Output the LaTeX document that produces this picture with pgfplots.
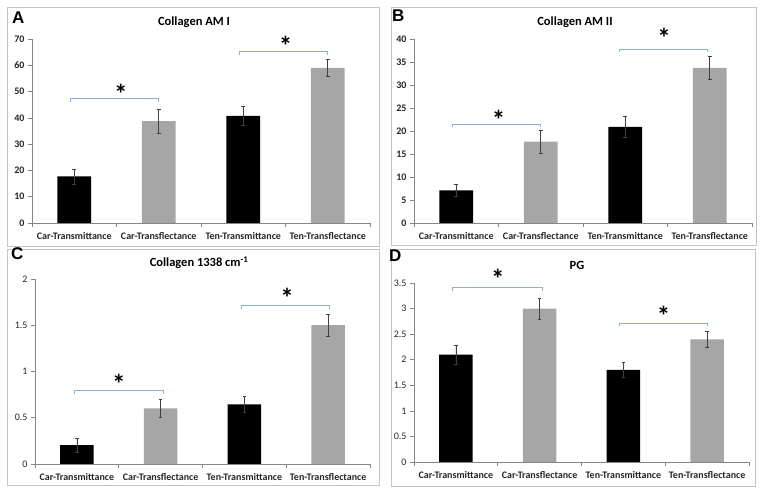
\documentclass[border=0pt]{standalone}
\usepackage{pgfplots}
\pgfplotsset{compat=1.18}
\usepackage{fontspec}
\setmainfont{Carlito}
\newfontfamily\arialf{Liberation Sans}
\definecolor{bargrey}{HTML}{A6A6A6}
\definecolor{axgrey}{HTML}{868686}
\definecolor{brk}{HTML}{8DB0DA}
\definecolor{frm}{HTML}{C4C4C4}
\definecolor{errc}{HTML}{404040}
\pgfplotsset{
  panel/.style={
    scale only axis, bar width=0.4,
    xmin=-0.5, xmax=3.5, ymin=0,
    xtick={0,1,2,3},
    xticklabels={Car-Transmittance,Car-Transflectance,Ten-Transmittance,Ten-Transflectance},
    major x tick style={draw=none},
    minor xtick={-0.5,0.5,1.5,2.5,3.5},
    minor x tick style={draw=axgrey, line width=0.6pt},
    minor tick length=4pt,
    major tick length=4pt,
    tick align=outside,
    axis x line*=bottom, axis y line*=left,
    axis line style={-, draw=axgrey, line width=0.6pt},
    y tick style={draw=axgrey, line width=0.6pt},
    clip=false, unbounded coords=jump,
    /pgf/number format/assume math mode=true,
    xticklabel style={font=\bfseries\fontsize{10}{12}\selectfont, text=black!85, yshift=-2pt},
    yticklabel style={font=\fontsize{10}{12}\selectfont, text=black!85},
  },
  boldy/.style={yticklabel style={font=\bfseries\fontsize{10}{12}\selectfont}},
  blk/.style={ybar, fill=black, draw=none, bar shift=0pt,
    error bars/.cd, y dir=both, y explicit,
    error bar style={errc, line width=0.6pt},
    error mark options={rotate=90, mark size=1.8pt, errc, line width=0.6pt}},
  gry/.style={ybar, fill=bargrey, draw=none, bar shift=0pt,
    error bars/.cd, y dir=both, y explicit,
    error bar style={errc, line width=0.6pt},
    error mark options={rotate=90, mark size=1.8pt, errc, line width=0.6pt}},
  brkt/.style={sharp plot, mark=none, draw=brk, line width=1pt, forget plot},
}
\newcommand{\starfont}{\bfseries\fontsize{27}{27}\selectfont}
\begin{document}
\begin{tikzpicture}
\path[use as bounding box] (0pt,0pt) rectangle (764pt,495pt);
% frames
\draw[frm, line width=1pt] (7pt,248pt) rectangle (379pt,487pt);
\draw[frm, line width=1pt] (391pt,249pt) rectangle (756pt,487pt);
\draw[frm, line width=1pt] (7pt,9pt) rectangle (379pt,245pt);
\draw[frm, line width=1pt] (391pt,8pt) rectangle (755pt,245pt);
% panel letters and titles
\node[font=\arialf\bfseries\fontsize{17}{17}\selectfont, anchor=north west, inner sep=0pt] at (12pt,483pt) {A};
\node[font=\arialf\bfseries\fontsize{17}{17}\selectfont, anchor=north west, inner sep=0pt] at (392pt,485pt) {B};
\node[font=\arialf\bfseries\fontsize{17}{17}\selectfont, anchor=north west, inner sep=0pt] at (11pt,248pt) {C};
\node[font=\arialf\bfseries\fontsize{17}{17}\selectfont, anchor=north west, inner sep=0pt] at (389pt,245pt) {D};
\node[font=\bfseries\fontsize{12.5}{14}\selectfont] at (194pt,473pt) {Collagen AM I};
\node[font=\bfseries\fontsize{12.5}{14}\selectfont] at (575pt,473pt) {Collagen AM II};
\node[font=\bfseries\fontsize{12.5}{14}\selectfont] at (199pt,232pt) {Collagen 1338 cm\textsuperscript{-1}};
\node[font=\bfseries\fontsize{12.5}{14}\selectfont] at (577pt,230pt) {PG};

% Panel A
\begin{axis}[panel, boldy, at={(32pt,272pt)}, anchor=south west, width=338pt, height=184pt,
  ymax=70, ytick={0,10,...,70}]
\addplot[brkt] coordinates {(-0.05,46.2) (-0.05,47.4) (1.0,47.4) (1.0,46.2) (1.5,nan)
  (1.96,64.0) (1.96,65.2) (3.0,65.2) (3.0,64.0)};
\addplot[blk] coordinates {(0,17.7) +- (0,2.8) (2,40.8) +- (0,3.7)};
\addplot[gry] coordinates {(1,38.8) +- (0,4.6) (3,59.0) +- (0,3.2)};
\node[font=\starfont, anchor=north, inner sep=0pt] at (axis cs:0.55,53) {*};
\node[font=\starfont, anchor=north, inner sep=0pt] at (axis cs:2.5,71) {*};
\end{axis}

% Panel B
\begin{axis}[panel, boldy, at={(414pt,272pt)}, anchor=south west, width=338pt, height=184pt,
  ymax=40, ytick={0,5,...,40}]
\addplot[brkt] coordinates {(-0.05,20.8) (-0.05,21.5) (1.0,21.5) (1.0,20.8) (1.5,nan)
  (1.93,37.1) (1.93,37.8) (2.97,37.8) (2.97,37.1)};
\addplot[blk] coordinates {(0,7.1) +- (0,1.3) (2,20.9) +- (0,2.3)};
\addplot[gry] coordinates {(1,17.7) +- (0,2.5) (3,33.7) +- (0,2.5)};
\node[font=\starfont, anchor=north, inner sep=0pt] at (axis cs:0.5,24.5) {*};
\node[font=\starfont, anchor=north, inner sep=0pt] at (axis cs:2.46,42.3) {*};
\end{axis}

% Panel C
\begin{axis}[panel, at={(35pt,31pt)}, anchor=south west, width=335pt, height=185pt,
  ymax=2, ytick={0,0.5,...,2}]
\addplot[brkt] coordinates {(-0.03,0.755) (-0.03,0.79) (1.03,0.79) (1.03,0.755) (1.5,nan)
  (1.97,1.675) (1.97,1.71) (3.02,1.71) (3.02,1.675)};
\addplot[blk] coordinates {(0,0.205) +- (0,0.075) (2,0.645) +- (0,0.09)};
\addplot[gry] coordinates {(1,0.60) +- (0,0.10) (3,1.50) +- (0,0.12)};
\node[font=\starfont, anchor=north, inner sep=0pt] at (axis cs:0.5,0.975) {*};
\node[font=\starfont, anchor=north, inner sep=0pt] at (axis cs:2.51,1.905) {*};
\end{axis}

% Panel D
\begin{axis}[panel, at={(414pt,33pt)}, anchor=south west, width=335pt, height=179pt,
  ymax=3.5, ytick={0,0.5,...,3.5}]
\addplot[brkt] coordinates {(-0.04,3.35) (-0.04,3.41) (1.03,3.41) (1.03,3.35) (1.5,nan)
  (1.95,2.65) (1.95,2.71) (3.0,2.71) (3.0,2.65)};
\addplot[blk] coordinates {(0,2.1) +- (0,0.19) (2,1.8) +- (0,0.14)};
\addplot[gry] coordinates {(1,3.0) +- (0,0.21) (3,2.4) +- (0,0.15)};
\node[font=\starfont, anchor=north, inner sep=0pt] at (axis cs:0.5,3.78) {*};
\node[font=\starfont, anchor=north, inner sep=0pt] at (axis cs:2.48,3.06) {*};
\end{axis}
\end{tikzpicture}
\end{document}
